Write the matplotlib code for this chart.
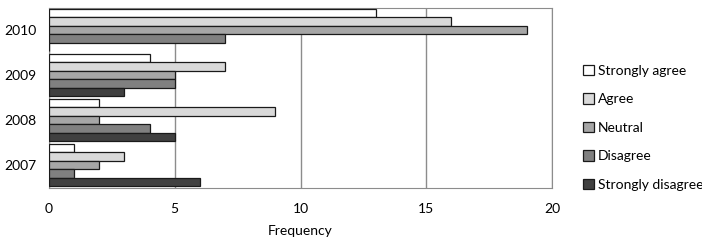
import numpy as np
import matplotlib.pyplot as plt
from matplotlib.patches import Patch

plt.rcParams['font.family'] = ['Lato', 'DejaVu Sans']

years = ['2007', '2008', '2009', '2010']
responses = ['Strongly agree', 'Agree', 'Neutral', 'Disagree', 'Strongly disagree']
strongly_agree = [1, 2, 4, 13]
agree = [3, 9, 7, 16]
neutral = [2, 2, 5, 19]
disagree = [1, 4, 5, 7]
strongly_disagree = [6, 5, 3, 0]
colors = ['#ffffff', '#d9d9d9', '#a6a6a6', '#808080', '#404040']

series = [strongly_agree, agree, neutral, disagree, strongly_disagree]

fig = plt.figure(figsize=(7.02, 2.42), dpi=100)
ax = fig.add_axes([49/702, 1 - 188/242, 503/702, 180/242])

y = np.arange(len(years))
h = 0.19
for i, (vals, c) in enumerate(zip(series, colors)):
    ax.barh(y + (2 - i) * h, vals, height=h, color=c, edgecolor='#1a1a1a', linewidth=0.9, zorder=3)

ax.set_xlim(0, 20)
ax.set_ylim(-0.51, 3.49)
ax.set_xticks([0, 5, 10, 15, 20])
ax.set_yticks(y)
ax.set_yticklabels(years)
ax.tick_params(length=0, labelsize=10, colors='black')
ax.tick_params(axis='x', pad=11)
ax.tick_params(axis='y', pad=9)
ax.xaxis.grid(True, color='#8c8c8c', linewidth=1, zorder=0)
for s in ax.spines.values():
    s.set_color('#8c8c8c')
ax.set_xlabel('Frequency', fontsize=10, labelpad=7)

handles = [Patch(facecolor=c, edgecolor='#1a1a1a', linewidth=0.9) for c in colors]
fig.legend(handles, responses, loc='upper left', bbox_to_anchor=(577/702, 1 - 59/242),
           frameon=False, fontsize=10, labelspacing=1.18, handlelength=0.8,
           handleheight=0.8, handletextpad=0.3, borderaxespad=0)

fig.savefig('out.png', dpi=100)
